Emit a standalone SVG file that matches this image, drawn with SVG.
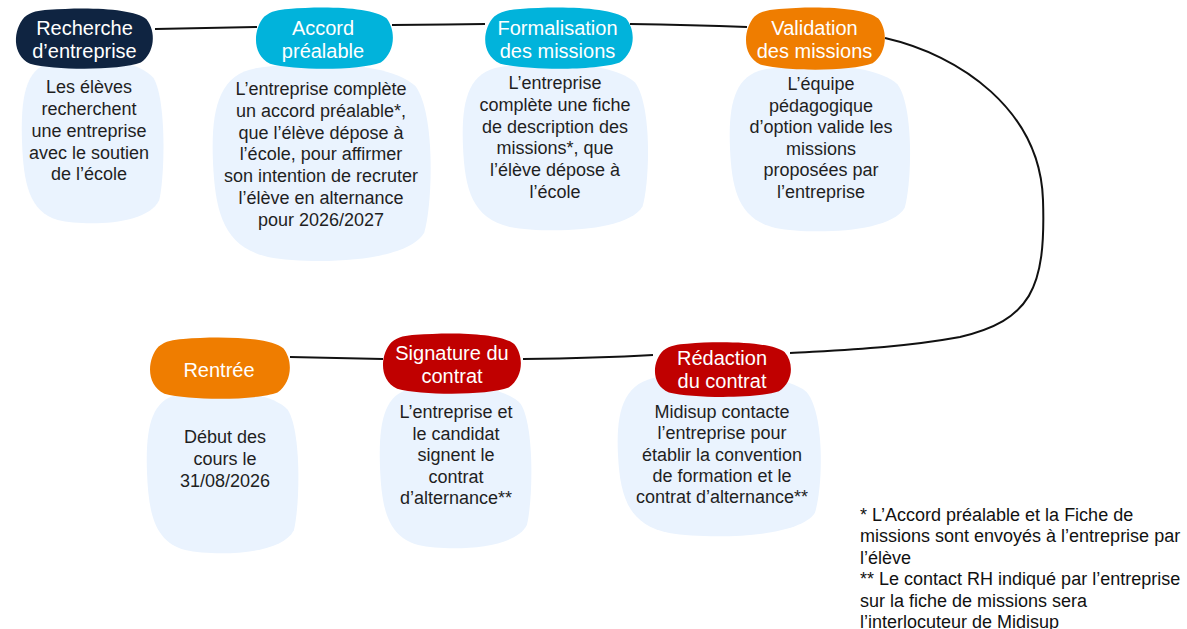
<svg xmlns="http://www.w3.org/2000/svg" width="1187" height="629" viewBox="0 0 1187 629">
<style>
.con{fill:none;stroke:#111;stroke-width:2}
.tt{font-family:"Liberation Sans",Arial,sans-serif;font-size:20px;fill:#fff;text-anchor:middle}
.bt{font-family:"Liberation Sans",Arial,sans-serif;font-size:18px;fill:#1f1f1f;text-anchor:middle}
.fn{font-family:"Liberation Sans",Arial,sans-serif;font-size:18px;fill:#111}
.body{fill:#eaf3fe}
.navy{fill:#0f2441}
.cyan{fill:#01b3db}
.orange{fill:#ef7d00}
.red{fill:#c00000}
</style>
<defs>
<path id="tb" d="M 25,3 C 50,-2 85,0 94,18 C 101,38 100,72 90,88 C 75,101 30,101 12,90 C -1,76 0,35 8,15 C 13,6 18,4 25,3 Z"/>
<path id="bb" d="M 20,3 C 45,-1 80,0 92,12 C 101,25 100,70 96,85 C 88,100 45,101 25,97 C 5,92 1,75 0,50 C -1,25 2,6 20,3 Z"/>
</defs>
<g id="connectors">
<path class="con" d="M 155,29 C 190,28.5 225,27.5 257,27"/>
<path class="con" d="M 392,25 C 420,24.5 455,24.5 485,24"/>
<path class="con" d="M 630,24 C 670,24.5 710,25.5 747,27"/>
<path class="con" d="M 885,38 C 960,55 1040,110 1043,200 C 1046,290 1030,320 960,337 C 900,348 840,350 790,353"/>
<path class="con" d="M 290,357 C 320,357.5 350,358 383,359"/>
<path class="con" d="M 523,359 C 570,358.5 610,357.5 653,355"/>
</g>
<g id="recherche">
<use href="#bb" class="body" transform="translate(22,58) scale(1.43,1.67)"/>
<use href="#tb" class="navy" transform="translate(13,8) scale(1.42,0.62)"/>
<text class="tt" x="84.5" y="35">Recherche</text>
<text class="tt" x="84.5" y="58">d’entreprise</text>
<text class="bt" x="89" y="93">Les élèves</text>
<text class="bt" x="89" y="115">recherchent</text>
<text class="bt" x="89" y="137">une entreprise</text>
<text class="bt" x="89" y="159">avec le soutien</text>
<text class="bt" x="89" y="180">de l’école</text>
</g>
<g id="accord">
<use href="#bb" class="body" transform="translate(213,62) scale(2.2,2.01)"/>
<use href="#tb" class="cyan" transform="translate(253,7) scale(1.42,0.63)"/>
<text class="tt" x="323" y="35">Accord</text>
<text class="tt" x="323" y="58">préalable</text>
<text class="bt" x="321" y="95">L’entreprise complète</text>
<text class="bt" x="321" y="117">un accord préalable*,</text>
<text class="bt" x="321" y="138.5">que l’élève dépose à</text>
<text class="bt" x="321" y="160">l’école, pour affirmer</text>
<text class="bt" x="321" y="182">son intention de recruter</text>
<text class="bt" x="321" y="204">l’élève en alternance</text>
<text class="bt" x="321" y="226">pour 2026/2027</text>
</g>
<g id="formalisation">
<use href="#bb" class="body" transform="translate(463,62) scale(1.87,1.70)"/>
<use href="#tb" class="cyan" transform="translate(482,7) scale(1.53,0.63)"/>
<text class="tt" x="557.5" y="35">Formalisation</text>
<text class="tt" x="557.5" y="58">des missions</text>
<text class="bt" x="555" y="89">L’entreprise</text>
<text class="bt" x="555" y="111">complète une fiche</text>
<text class="bt" x="555" y="133">de description des</text>
<text class="bt" x="555" y="154">missions*, que</text>
<text class="bt" x="555" y="176">l’élève dépose à</text>
<text class="bt" x="555" y="198">l’école</text>
</g>
<g id="validation">
<use href="#bb" class="body" transform="translate(730,64) scale(1.82,1.69)"/>
<use href="#tb" class="orange" transform="translate(743,7) scale(1.44,0.64)"/>
<text class="tt" x="814.5" y="35">Validation</text>
<text class="tt" x="814.5" y="58">des missions</text>
<text class="bt" x="821" y="90">L’équipe</text>
<text class="bt" x="821" y="111.5">pédagogique</text>
<text class="bt" x="821" y="133">d’option valide les</text>
<text class="bt" x="821" y="154.5">missions</text>
<text class="bt" x="821" y="176">proposées par</text>
<text class="bt" x="821" y="197.5">l’entreprise</text>
</g>
<g id="redaction">
<use href="#bb" class="body" transform="translate(618,372) scale(2.05,1.66)"/>
<use href="#tb" class="red" transform="translate(652,342) scale(1.41,0.56)"/>
<text class="tt" x="722" y="365">Rédaction</text>
<text class="tt" x="722" y="388">du contrat</text>
<text class="bt" x="722" y="418">Midisup contacte</text>
<text class="bt" x="722" y="439.3">l’entreprise pour</text>
<text class="bt" x="722" y="460.6">établir la convention</text>
<text class="bt" x="722" y="481.9">de formation et le</text>
<text class="bt" x="722" y="503">contrat d’alternance**</text>
</g>
<g id="signature">
<use href="#bb" class="body" transform="translate(380,384) scale(1.53,1.66)"/>
<use href="#tb" class="red" transform="translate(380,333) scale(1.43,0.62)"/>
<text class="tt" x="452" y="360">Signature du</text>
<text class="tt" x="452" y="383">contrat</text>
<text class="bt" x="456" y="418">L’entreprise et</text>
<text class="bt" x="456" y="439.5">le candidat</text>
<text class="bt" x="456" y="461">signent le</text>
<text class="bt" x="456" y="482.5">contrat</text>
<text class="bt" x="456" y="504">d’alternance**</text>
</g>
<g id="rentree">
<use href="#bb" class="body" transform="translate(147,390) scale(1.53,1.65)"/>
<use href="#tb" class="orange" transform="translate(147,337) scale(1.45,0.63)"/>
<text class="tt" x="219" y="377">Rentrée</text>
<text class="bt" x="225" y="443">Début des</text>
<text class="bt" x="225" y="465">cours le</text>
<text class="bt" x="225" y="487">31/08/2026</text>
</g>
<g id="footnote">
<text class="fn" x="860" y="520.5">* L’Accord préalable et la Fiche de</text>
<text class="fn" x="860" y="542">missions sont envoyés à l’entreprise par</text>
<text class="fn" x="860" y="563.5">l’élève</text>
<text class="fn" x="860" y="585">** Le contact RH indiqué par l’entreprise</text>
<text class="fn" x="860" y="606.5">sur la fiche de missions sera</text>
<text class="fn" x="860" y="628">l’interlocuteur de Midisup</text>
</g>
</svg>
